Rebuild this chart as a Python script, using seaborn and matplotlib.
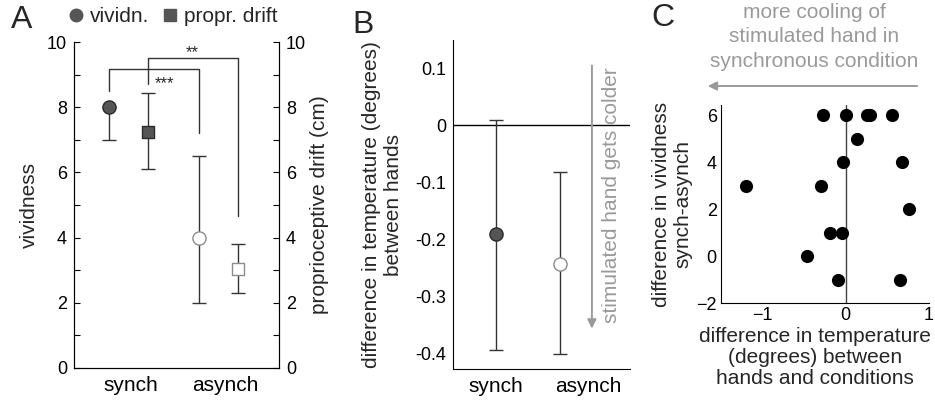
"""
Illusion vividness, proprioceptive drift and hand temperature (panels A-C).
"""
import matplotlib
matplotlib.use('Agg')
import matplotlib.pyplot as plt
from matplotlib.lines import Line2D
from matplotlib.patches import FancyArrowPatch
from matplotlib.ticker import MultipleLocator
import pandas as pd
import seaborn as sns

sns.set_style('white')
plt.rcParams['font.family'] = ['Liberation Sans', 'DejaVu Sans']
plt.rcParams['font.size'] = 15

# --- data ---
conditions = ['synch', 'asynch']

vividness = [8.0, 4.0]
vividness_lo = [7.0, 2.0]
vividness_hi = [8.0, 6.5]

drift = [7.25, 3.05]
drift_lo = [6.1, 2.3]
drift_hi = [8.45, 3.8]

temp_diff = [-0.19, -0.243]
temp_lo = [-0.395, -0.402]
temp_hi = [0.01, -0.082]

# panel C: per-subject differences (synch - asynch)
delta_temp = [-0.28, 0.0, 0.25, 0.29, 0.56, 0.14, -0.03, 0.67,
              -1.2, -0.30, 0.76, -0.19, -0.05, -0.47, -0.09, 0.65]
delta_vivid = [6, 6, 6, 6, 6, 5, 4, 4,
               3, 3, 2, 1, 1, 0, -1, -1]

DARK = '#555555'
EDGE = '#2a2a2a'
OPEN_EDGE = '#8c8c8c'
LINE = '#333333'
GRAY = '#9a9a9a'
NUM_SIZE = 13

W, H = 935, 400


def fig_box(left, top, right, bottom):
    return [left / W, 1 - bottom / H, (right - left) / W, (bottom - top) / H]


def fx(x):
    return x / W


def fy(y):
    return 1 - y / H


def inward(ax, **kw):
    ax.tick_params(which='both', direction='in', length=4, width=0.8, colors='black',
                   labelsize=NUM_SIZE, **kw)


def clean_spines(ax, hide):
    ax.spines[hide].set_visible(False)
    for s in ax.spines.values():
        s.set_linewidth(0.8)
        s.set_color('black')


fig = plt.figure(figsize=(W / 100, H / 100), dpi=100)

# ===== A: vividness + proprioceptive drift =====
axA = fig.add_axes(fig_box(74, 42, 279, 368))
axA2 = axA.twinx()
off = 0.22
for i, cond in enumerate(conditions):
    face = DARK if cond == 'synch' else 'white'
    edge = EDGE if cond == 'synch' else OPEN_EDGE
    xv, xd = i - off, i + off
    axA.errorbar(xv, vividness[i], yerr=[[vividness[i] - vividness_lo[i]], [vividness_hi[i] - vividness[i]]],
                 fmt='none', ecolor=LINE, elinewidth=1, capsize=5, capthick=1, zorder=1)
    sns.scatterplot(x=[xv], y=[vividness[i]], ax=axA, marker='o', s=90, color=face,
                    edgecolor=edge, linewidth=1, zorder=3)
    axA2.errorbar(xd, drift[i], yerr=[[drift[i] - drift_lo[i]], [drift_hi[i] - drift[i]]],
                  fmt='none', ecolor=LINE, elinewidth=1, capsize=5, capthick=1, zorder=1)
    sns.scatterplot(x=[xd], y=[drift[i]], ax=axA2, marker='s', s=70, color=face,
                    edgecolor=edge, linewidth=1, zorder=3)

# significance brackets
axA.plot([-off, -off, 1 - off, 1 - off], [8.5, 9.17, 9.17, 7.22], color=LINE, lw=1, clip_on=False)
axA.plot([off, off, 1 + off, 1 + off], [8.7, 9.52, 9.52, 4.65], color=LINE, lw=1, clip_on=False)
axA.text(0.405, 8.72, '***', ha='center', va='center', fontsize=12)
axA.text(0.705, 9.68, '**', ha='center', va='center', fontsize=12)

for a in (axA, axA2):
    a.set_xlim(-0.606, 1.672)
    a.set_ylim(0, 10)
    a.yaxis.set_major_locator(MultipleLocator(2))
    a.yaxis.set_minor_locator(MultipleLocator(1))
    clean_spines(a, ['top'])
    inward(a, pad=5)
axA.tick_params(axis='x', length=0, pad=6, labelsize=15)
axA.set_xticks([0.03, 1.07], conditions)
axA.set_ylabel('vividness', labelpad=6)
axA2.set_ylabel('proprioceptive drift (cm)', labelpad=3)

handles = [Line2D([], [], marker='o', ls='', color=DARK, markersize=9),
           Line2D([], [], marker='s', ls='', color=DARK, markersize=8)]
fig.legend(handles, ['vividn.', 'propr. drift'], loc='center left', bbox_to_anchor=(fx(70), fy(17)),
           ncol=2, frameon=False, handlelength=0.6, handletextpad=0.35, columnspacing=0.7,
           borderaxespad=0, borderpad=0, fontsize=15)

# ===== B: temperature difference =====
axB = fig.add_axes(fig_box(453, 40, 630, 369))
xB = [0, 0.7]
for i, cond in enumerate(conditions):
    face = DARK if cond == 'synch' else 'white'
    edge = EDGE if cond == 'synch' else OPEN_EDGE
    axB.errorbar(xB[i], temp_diff[i], yerr=[[temp_diff[i] - temp_lo[i]], [temp_hi[i] - temp_diff[i]]],
                 fmt='none', ecolor=LINE, elinewidth=1, capsize=5, capthick=1, zorder=1)
    sns.scatterplot(x=[xB[i]], y=[temp_diff[i]], ax=axB, marker='o', s=90, color=face,
                    edgecolor=edge, linewidth=1, zorder=3)
axB.axhline(0, color='black', lw=1, zorder=0)
axB.annotate('', xy=(1.043, -0.357), xytext=(1.043, 0.105),
             arrowprops=dict(arrowstyle='-|>', color=GRAY, lw=1.4, mutation_scale=13, shrinkA=0, shrinkB=0))
axB.text(1.26, -0.123, 'stimulated hand gets colder', rotation=90, ha='center', va='center', color=GRAY)
axB.set_xlim(-0.467, 1.457)
axB.set_ylim(-0.428, 0.15)
axB.yaxis.set_minor_locator(MultipleLocator(0.05))
axB.set_yticks([0.1, 0, -0.1, -0.2, -0.3, -0.4], ['0.1', '0', '-0.1', '-0.2', '-0.3', '-0.4'])
axB.set_xticks([0, 1], conditions)
clean_spines(axB, ['top', 'right'])
inward(axB, pad=5)
axB.tick_params(axis='x', length=0, pad=6, labelsize=15)
axB.set_ylabel('difference in temperature (degrees)\nbetween hands', labelpad=9, linespacing=1.15)

# ===== C: scatter of differences =====
axC = fig.add_axes(fig_box(721, 105, 929, 303))
df_c = pd.DataFrame({'temp': delta_temp, 'vivid': delta_vivid})
axC.axvline(0, color='#444444', lw=1, zorder=0)
sns.scatterplot(data=df_c, x='temp', y='vivid', ax=axC, s=90, color='black', edgecolor='black',
                linewidth=0, zorder=3)
axC.set_xlim(-1.5, 1)
axC.set_ylim(-2, 6.43)
axC.xaxis.set_major_locator(MultipleLocator(1))
axC.xaxis.set_minor_locator(MultipleLocator(0.5))
axC.yaxis.set_major_locator(MultipleLocator(2))
axC.yaxis.set_minor_locator(MultipleLocator(1))
clean_spines(axC, ['top', 'right'])
inward(axC, pad=3)
axC.set_xlabel('difference in temperature\n(degrees) between\nhands and conditions', linespacing=1.15)
axC.xaxis.set_label_coords(0.45, -0.12, transform=axC.transAxes)
axC.xaxis.label.set_va('top')
axC.set_ylabel('difference in vividness\nsynch-asynch', linespacing=1.12, labelpad=3)

fig.text(fx(814), fy(37), 'more cooling of\nstimulated hand in\nsynchronous condition',
         ha='center', va='center', color=GRAY, linespacing=1.38)
fig.add_artist(FancyArrowPatch((fx(920), fy(86)), (fx(705), fy(86)), transform=fig.transFigure,
                               arrowstyle='-|>', color=GRAY, lw=1.4, mutation_scale=13))

# panel letters
fig.text(fx(22), fy(20), 'A', fontsize=23, ha='center', va='center')
fig.text(fx(363), fy(25), 'B', fontsize=23, ha='center', va='center')
fig.text(fx(663), fy(18), 'C', fontsize=23, ha='center', va='center')

fig.savefig('out.png', dpi=100, facecolor='white')
